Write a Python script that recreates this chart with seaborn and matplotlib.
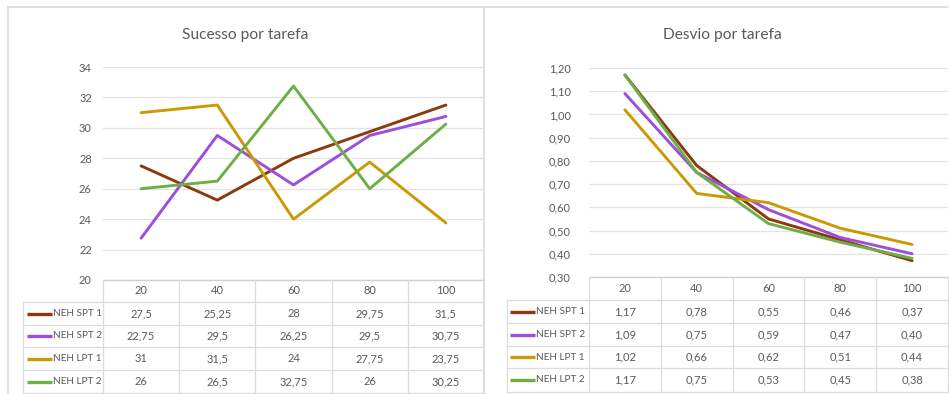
import numpy as np
import pandas as pd
import matplotlib
matplotlib.use("Agg")
import matplotlib.pyplot as plt
import seaborn as sns

# Task sizes (columns) and series names
tarefas = ["20", "40", "60", "80", "100"]
series = ["NEH SPT 1", "NEH SPT 2", "NEH LPT 1", "NEH LPT 2"]

# Success per task size
sucesso_spt1 = [27.5, 25.25, 28, 29.75, 31.5]
sucesso_spt2 = [22.75, 29.5, 26.25, 29.5, 30.75]
sucesso_lpt1 = [31, 31.5, 24, 27.75, 23.75]
sucesso_lpt2 = [26, 26.5, 32.75, 26, 30.25]

# Deviation per task size
desvio_spt1 = [1.17, 0.78, 0.55, 0.46, 0.37]
desvio_spt2 = [1.09, 0.75, 0.59, 0.47, 0.40]
desvio_lpt1 = [1.02, 0.66, 0.62, 0.51, 0.44]
desvio_lpt2 = [1.17, 0.75, 0.53, 0.45, 0.38]

sucesso_ticks = [20, 22, 24, 26, 28, 30, 32, 34]
desvio_ticks = [0.30, 0.40, 0.50, 0.60, 0.70, 0.80, 0.90, 1.00, 1.10, 1.20]

cores = {"NEH SPT 1": "#8B3A0F", "NEH SPT 2": "#9B4FDB",
         "NEH LPT 1": "#C99A06", "NEH LPT 2": "#6FAE47"}

sns.set_theme(style="white")
plt.rcParams["font.family"] = ["Lato", "DejaVu Sans"]

TXT = "#595959"
GRID = "#E3E3E3"
TAB = "#DCDCDC"
W, H = 949, 394


def long_form(valores):
    linhas = []
    for nome, vals in zip(series, valores):
        for i, (t, v) in enumerate(zip(tarefas, vals)):
            linhas.append({"serie": nome, "pos": i, "tarefa": t, "valor": v})
    return pd.DataFrame(linhas)


def fmt_sucesso(v):
    return f"{v:g}".replace(".", ",")


def fmt_desvio(v):
    return f"{v:.2f}".replace(".", ",")


fig = plt.figure(figsize=(W / 100, H / 100), dpi=100)
fig.patch.set_facecolor("white")

# Background layer in pixel coordinates for frames and data tables
bg = fig.add_axes([0, 0, 1, 1])
bg.set_xlim(0, W)
bg.set_ylim(H, 0)
bg.axis("off")

# Panel frames
bg.plot([8, 948], [7, 7], color="#D9D9D9", lw=1.2)
bg.plot([8, 8], [7, H], color="#D9D9D9", lw=1.2)
bg.plot([484, 484], [7, H], color="#D9D9D9", lw=1.2)


def painel(titulo, valores, fmt, ticks, tick_fmt, x_label0, x_plot0, x_plot1,
           y_top, y_axis, rows_y, key_x, title_x, tick_pad):
    df = long_form(valores)
    ax = fig.add_axes([x_plot0 / W, 1 - y_axis / H,
                       (x_plot1 - x_plot0) / W, (y_axis - y_top) / H])
    ax.patch.set_alpha(0)
    sns.lineplot(data=df, x="pos", y="valor", hue="serie", palette=cores,
                 hue_order=series, linewidth=2.1, legend=False, ax=ax)
    ax.set_xlim(-0.5, len(tarefas) - 0.5)
    ax.set_ylim(ticks[0], ticks[-1])
    ax.set_yticks(ticks)
    ax.set_yticklabels([tick_fmt(t) for t in ticks], color=TXT, fontsize=8)
    ax.set_xticks([])
    ax.set_xlabel("")
    ax.set_ylabel("")
    ax.tick_params(axis="y", length=0, pad=tick_pad)
    ax.grid(axis="y", color=GRID, lw=0.9)
    ax.set_axisbelow(True)
    for s in ax.spines.values():
        s.set_visible(False)

    fig.text(title_x / W, 1 - 35 / H, titulo, ha="center", va="center",
             fontsize=11.2, color=TXT)

    # Data table under the plot
    ncol = len(tarefas)
    cw = (x_plot1 - x_plot0) / ncol
    col_edges = [x_plot0 + i * cw for i in range(ncol + 1)]
    bg.plot([x_plot0, x_plot1], [y_axis, y_axis], color="#D0D0D0", lw=1.0)
    for y in rows_y:
        bg.plot([x_label0, x_plot1], [y, y], color=TAB, lw=0.9)
    for x in col_edges:
        bg.plot([x, x], [y_axis, rows_y[-1]], color=TAB, lw=0.9)
    bg.plot([x_label0, x_label0], [rows_y[0], rows_y[-1]], color=TAB, lw=0.9)

    hy = (y_axis + rows_y[0]) / 2
    for i, t in enumerate(tarefas):
        bg.text(x_plot0 + (i + 0.5) * cw, hy, t, ha="center", va="center",
                fontsize=8, color=TXT)
    for r, (nome, vals) in enumerate(zip(series, valores)):
        cy = (rows_y[r] + rows_y[r + 1]) / 2
        bg.plot([key_x, key_x + 25], [cy, cy], color=cores[nome], lw=2.4,
                solid_capstyle="butt")
        bg.text(key_x + 26, cy, nome, ha="left", va="center", fontsize=7.2,
                color=TXT)
        for i, v in enumerate(vals):
            bg.text(x_plot0 + (i + 0.5) * cw, cy, fmt(v), ha="center",
                    va="center", fontsize=8, color=TXT)


painel("Sucesso por tarefa",
       [sucesso_spt1, sucesso_spt2, sucesso_lpt1, sucesso_lpt2],
       fmt_sucesso, sucesso_ticks, lambda t: f"{t:d}",
       x_label0=23, x_plot0=103, x_plot1=484, y_top=67, y_axis=280,
       rows_y=[302, 325, 347, 370, 393], key_x=27, title_x=245, tick_pad=8)

painel("Desvio por tarefa",
       [desvio_spt1, desvio_spt2, desvio_lpt1, desvio_lpt2],
       fmt_desvio, desvio_ticks, lambda t: f"{t:.2f}".replace(".", ","),
       x_label0=507, x_plot0=589, x_plot1=948, y_top=68, y_axis=277,
       rows_y=[300, 323, 346, 368, 392], key_x=510, title_x=722, tick_pad=13)

fig.savefig("out.png", dpi=100)
